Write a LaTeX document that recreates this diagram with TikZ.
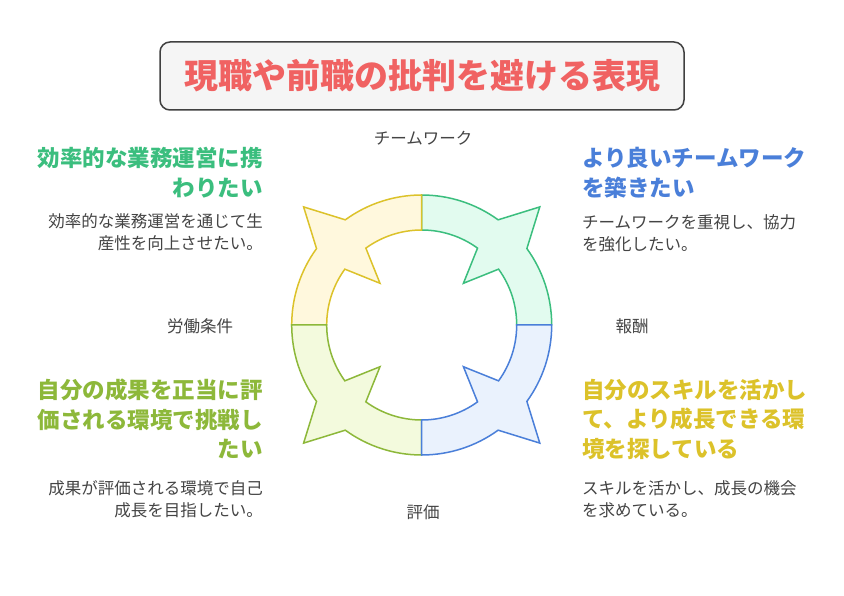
\documentclass[tikz,border=0pt]{standalone}
\usepackage{fontspec}
\setmainfont{Noto Sans CJK JP}
\definecolor{cgreen}{HTML}{3BBE7E}
\definecolor{fgreen}{HTML}{E2FBEF}
\definecolor{cyel}{HTML}{DCC22A}
\definecolor{fyel}{HTML}{FFF8DD}
\definecolor{colive}{HTML}{8DB83A}
\definecolor{folive}{HTML}{F3FADD}
\definecolor{cblue}{HTML}{4A7FD9}
\definecolor{fblue}{HTML}{EAF2FD}
\definecolor{ctitle}{HTML}{F06262}
\definecolor{cbody}{HTML}{444444}
\begin{document}
\begin{tikzpicture}[x=1pt,y=1pt,
  head/.style={inner sep=0pt,font=\bfseries\fontsize{22.5}{29.5}\selectfont},
  body/.style={inner sep=0pt,text=cbody,font=\fontsize{16.5}{22.5}\selectfont},
  lab/.style={inner sep=0pt,text=cbody,font=\fontsize{16.5}{18}\selectfont}]
\useasboundingbox[fill=white] (0,0) rectangle (844,595);
\node[draw=black!75,line width=1.5pt,fill=black!4,rounded corners=10pt,minimum width=524pt,minimum height=68pt,
  text=ctitle,font=\bfseries\fontsize{34}{36}\selectfont] (title) at (422,519) {現職や前職の批判を避ける表現};
\coordinate (c) at (421.7,270);
\foreach \a/\s/\f in {0/cgreen/fgreen,90/cyel/fyel,180/colive/folive,270/cblue/fblue}{
  \begin{scope}[shift={(c)}]
  \draw[draw=\s,fill=\f,line width=1.5pt,line join=miter]
    ({\a+90}:130) arc[start angle=\a+90,end angle=\a+54,radius=130]
    -- ({\a+45}:167) -- ({\a+36}:130)
    arc[start angle=\a+36,end angle=\a,radius=130]
    -- (\a:95) arc[start angle=\a,end angle=\a+36,radius=95]
    -- ({\a+45}:59) -- ({\a+54}:95)
    arc[start angle=\a+54,end angle=\a+90,radius=95] -- cycle;
  \end{scope}}
\node[lab] (l1) at (423,457) {チームワーク};
\node[lab] (l2) at (200,269) {労働条件};
\node[lab] (l3) at (632,269) {報酬};
\node[lab] (l4) at (423,83) {評価};
\node[head,text=cgreen,align=right,anchor=north east] (h1) at (263,448) {効率的な業務運営に携\\わりたい};
\node[body,align=right,anchor=north east] (b1) at (263,382) {効率的な業務運営を通じて生\\産性を向上させたい。};
\node[head,text=cblue,align=left,anchor=north west] (h2) at (582,448) {より良いチームワーク\\を築きたい};
\node[body,align=left,anchor=north west] (b2) at (582,381) {チームワークを重視し、協力\\を強化したい。};
\node[head,text=colive,align=right,anchor=north east] (h3) at (263,216) {自分の成果を正当に評\\価される環境で挑戦し\\たい};
\node[body,align=right,anchor=north east] (b3) at (263,115) {成果が評価される環境で自己\\成長を目指したい。};
\node[head,text=cyel,align=left,anchor=north west] (h4) at (582,216) {自分のスキルを活かし\\て、より成長できる環\\境を探している};
\node[body,align=left,anchor=north west] (b4) at (582,115) {スキルを活かし、成長の機会\\を求めている。};
\end{tikzpicture}
\end{document}
